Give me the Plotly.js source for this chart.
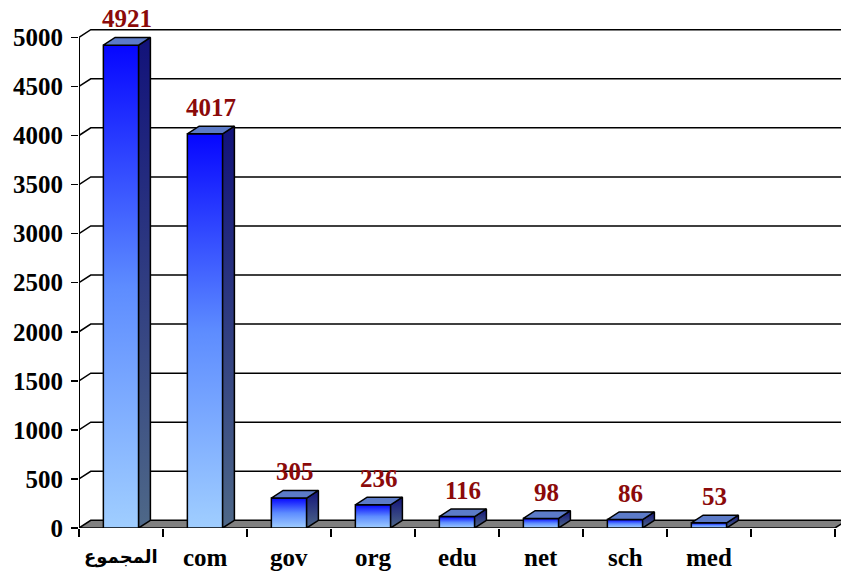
<!DOCTYPE html>
<html><head><meta charset="utf-8">
<script src="https://cdn.plot.ly/plotly-3.0.1.min.js"></script>
<style>html,body{margin:0;padding:0;background:#fff}</style>
</head><body><div id="chart" style="width:841px;height:581px"></div>
<script>
// ---- data ----
const categories = ['المجموع', 'com', 'gov', 'org', 'edu', 'net', 'sch', 'med', ''];
const values = [4921, 4017, 305, 236, 116, 98, 86, 53];
const yTickVals = [0, 500, 1000, 1500, 2000, 2500, 3000, 3500, 4000, 4500, 5000];
const yTickText = ['0', '500', '1000', '1500', '2000', '2500', '3000', '3500', '4000', '4500', '5000'];

// ---- geometry / style ----
const DX = 0.14, DY = 78, HW = 0.21;
const nCat = categories.length;
const xLo = -0.5, xHi = nCat - 0.5;
const FONT = 'Liberation Serif, "Times New Roman", "DejaVu Sans", serif';
const traces = [];
const line = (c, w) => ({color: c, width: w});
const isArabic = s => /[\u0600-\u06FF]/.test(s);

// back gridlines with connectors
yTickVals.forEach(v => {
  if (v === 0) return;
  traces.push({type: 'scatter', mode: 'lines', x: [xLo, xLo + DX, xHi + 1], y: [v, v + DY, v + DY],
    line: line('#000', 1.5), hoverinfo: 'skip'});
});
// floor
traces.push({type: 'scatter', mode: 'lines', x: [xLo, xHi, xHi + DX, xLo + DX, xLo], y: [0, 0, DY, DY, 0],
  fill: 'toself', fillcolor: '#808080', line: line('#000', 1.5), hoverinfo: 'skip'});
// front axis line
traces.push({type: 'scatter', mode: 'lines', x: [xLo, xLo], y: [0, yTickVals[yTickVals.length - 1]],
  line: line('#000', 2), hoverinfo: 'skip'});

// bars
values.forEach((v, i) => {
  const x0 = i - HW, x1 = i + HW;
  traces.push({type: 'scatter', mode: 'lines', x: [x0, x1, x1, x0, x0], y: [0, 0, v, v, 0], fill: 'toself',
    fillgradient: {type: 'vertical', colorscale: [[0, '#a0ceff'], [0.5, '#5d8cff'], [1, '#0606ff']]},
    line: line('#000', 1.5), hoverinfo: 'skip'});
  traces.push({type: 'scatter', mode: 'lines', x: [x1, x1 + DX, x1 + DX, x1, x1], y: [0, DY, v + DY, v, 0], fill: 'toself',
    fillgradient: {type: 'vertical', colorscale: [[0, '#4e6888'], [1, '#12127a']]},
    line: line('#000', 1.5), hoverinfo: 'skip'});
  traces.push({type: 'scatter', mode: 'lines', x: [x0, x1, x1 + DX, x0 + DX, x0], y: [v, v, v + DY, v + DY, v], fill: 'toself',
    fillcolor: '#5c7bc8', line: line('#000', 1.5), hoverinfo: 'skip'});
});

const annotations = [];
values.forEach((v, i) => {
  annotations.push({x: i + DX / 2, y: v + DY, xref: 'x', yref: 'y', text: String(v), showarrow: false,
    yanchor: 'bottom', yshift: 3, font: {family: FONT, size: 25, color: '#8b0a0a', weight: 'bold'}});
});
categories.forEach((c, i) => {
  if (!c) return;
  annotations.push({x: i, y: 0, xref: 'x', yref: 'y', text: c, showarrow: false,
    yanchor: 'middle', yshift: -29, font: {family: FONT, size: isArabic(c) ? 18 : 25, color: '#000', weight: 'bold'}});
});

const boundaries = [];
for (let k = 0; k <= nCat; k++) boundaries.push(k - 0.5);

const layout = {
  width: 841, height: 581,
  margin: {l: 79, r: 0, t: 5, b: 53},
  paper_bgcolor: '#fff', plot_bgcolor: '#fff',
  showlegend: false, hovermode: false,
  xaxis: {range: [xLo, xLo + 762 / 84], showgrid: false, zeroline: false, showline: false,
    tickmode: 'array', tickvals: boundaries, ticktext: boundaries.map(() => ''),
    ticks: 'outside', ticklen: 8, tickwidth: 1.5, tickcolor: '#000', fixedrange: true},
  yaxis: {range: [0, 5330], showgrid: false, zeroline: false, showline: false,
    tickmode: 'array', tickvals: yTickVals, ticktext: yTickText,
    ticks: 'outside', ticklen: 7, tickwidth: 1.5, tickcolor: '#000', ticklabelstandoff: 3,
    tickfont: {family: FONT, size: 25, color: '#000', weight: 'bold'}, fixedrange: true},
  annotations: annotations
};
Plotly.newPlot('chart', traces, layout, {staticPlot: true, displayModeBar: false});
</script></body></html>
